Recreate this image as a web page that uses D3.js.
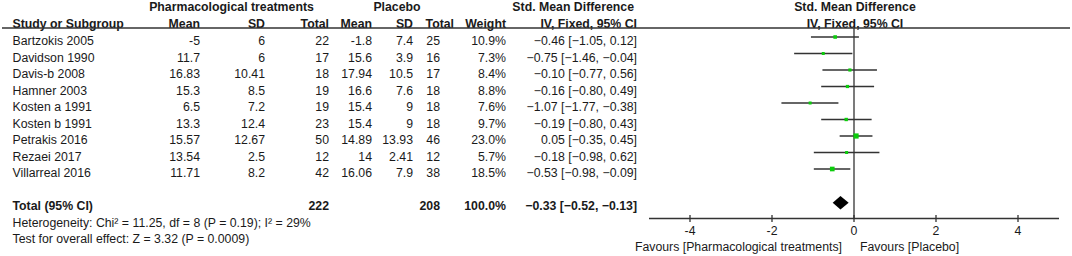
<!DOCTYPE html>
<html><head><meta charset="utf-8">
<script src="https://cdn.jsdelivr.net/npm/d3@7"></script>
<style>
html,body{margin:0;padding:0;background:#fff;}
svg{display:block;}
text{font-family:"Liberation Sans",Arial,sans-serif;font-size:12.3px;fill:#1a1a1a;}
.b{font-weight:bold;}
</style></head><body>
<svg id="c" width="1072" height="256"></svg>
<script>
const studies = ["Bartzokis 2005","Davidson 1990","Davis-b 2008","Hamner 2003","Kosten a 1991","Kosten b 1991","Petrakis 2016","Rezaei 2017","Villarreal 2016"];
const trtMean = ["-5","11.7","16.83","15.3","6.5","13.3","15.57","13.54","11.71"];
const trtSD = ["6","6","10.41","8.5","7.2","12.4","12.67","2.5","8.2"];
const trtN = [22,17,18,19,19,23,50,12,42];
const plcMean = ["-1.8","15.6","17.94","16.6","15.4","15.4","14.89","14","16.06"];
const plcSD = ["7.4","3.9","10.5","7.6","9","9","13.93","2.41","7.9"];
const plcN = [25,16,17,18,18,18,46,12,38];
const weights = [10.9,7.3,8.4,8.8,7.6,9.7,23.0,5.7,18.5];
const smd = [-0.46,-0.75,-0.10,-0.16,-1.07,-0.19,0.05,-0.18,-0.53];
const lo = [-1.05,-1.46,-0.77,-0.80,-1.77,-0.80,-0.35,-0.98,-0.98];
const hi = [0.12,-0.04,0.56,0.49,-0.38,0.43,0.45,0.62,-0.09];
const total = {trtN:222, plcN:208, weight:"100.0%", smd:-0.33, lo:-0.52, hi:-0.13};
const heterogeneity = "Heterogeneity: Chi² = 11.25, df = 8 (P = 0.19); I² = 29%";
const overallTest = "Test for overall effect: Z = 3.32 (P = 0.0009)";
const axisTicks = [-4,-2,0,2,4];
const favLeft = "Favours [Pharmacological treatments]";
const favRight = "Favours [Placebo]";

const svg = d3.select("#c");
const x = d3.scaleLinear().domain([-5,5]).range([649,1059]);
const rowY = d3.scaleLinear().domain([0,1]).range([45,61.5]); // baseline of row index
const size = d3.scaleSqrt().domain([0,23]).range([0,5.2]);
const fmt = d3.format(".2f");

function txt(xp, yp, s, anchor, cls){
  return svg.append("text").attr("x",xp).attr("y",yp).attr("text-anchor",anchor||"start")
    .attr("class",cls||null).text(s);
}

// Headers
txt(231.5, 11, "Pharmacological treatments", "middle", "b");
txt(397, 11, "Placebo", "middle", "b");
txt(634, 11, "Std. Mean Difference", "end", "b");
txt(855, 11, "Std. Mean Difference", "middle", "b");
txt(12.5, 27.5, "Study or Subgroup", "start", "b");
const hdr2 = [["Mean",200],["SD",265],["Total",329],["Mean",372],["SD",413],["Total",454],["Weight",506],["IV, Fixed, 95% CI",637]];
hdr2.forEach(h => txt(h[1], 27.5, h[0], "end", "b"));
txt(855, 27.5, "IV, Fixed, 95% CI", "middle", "b");
svg.append("line").attr("x1",2).attr("x2",1070).attr("y1",28).attr("y2",28)
  .attr("stroke","#333").attr("stroke-width",1.3);

// Study rows
studies.forEach((s,i) => {
  const y = rowY(i);
  txt(12.5, y, s);
  txt(200, y, trtMean[i], "end");
  txt(265, y, trtSD[i], "end");
  txt(329, y, trtN[i], "end");
  txt(372, y, plcMean[i], "end");
  txt(413, y, plcSD[i], "end");
  txt(440, y, plcN[i], "end");
  txt(506, y, weights[i].toFixed(1)+"%", "end");
  txt(637, y, fmt(smd[i])+" ["+fmt(lo[i])+", "+fmt(hi[i])+"]", "end");
});

// Total row
const ty = rowY(10);
txt(12.5, ty, "Total (95% CI)", "start", "b");
txt(329, ty, total.trtN, "end", "b");
txt(440, ty, total.plcN, "end", "b");
txt(506, ty, total.weight, "end", "b");
txt(637, ty, fmt(total.smd)+" ["+fmt(total.lo)+", "+fmt(total.hi)+"]", "end", "b");
txt(12.5, rowY(11), heterogeneity);
txt(12.5, rowY(12), overallTest);

// Plot
const axisY = 218.5;
svg.append("line").attr("x1",x(0)).attr("x2",x(0)).attr("y1",28).attr("y2",axisY)
  .attr("stroke","#333").attr("stroke-width",1.3);

const g = svg.append("g");
studies.forEach((s,i) => {
  const cy = rowY(i) - 8;
  g.append("line").attr("x1",x(lo[i])).attr("x2",x(hi[i])).attr("y1",cy).attr("y2",cy)
    .attr("stroke","#333").attr("stroke-width",1.3);
  const sz = Math.max(3, size(weights[i]));
  g.append("rect").attr("x",x(smd[i])-sz/2).attr("y",cy-sz/2).attr("width",sz).attr("height",sz)
    .attr("fill","#0ccc0c");
});

// Diamond
const dy = ty - 7.3;
svg.append("path")
  .attr("d", `M${x(total.lo)},${dy} L${x(total.smd)},${dy-6.8} L${x(total.hi)},${dy} L${x(total.smd)},${dy+6.8} Z`)
  .attr("fill","#000");

// Axis
const ax = svg.append("g");
ax.append("line").attr("x1",x(-5)).attr("x2",x(5)).attr("y1",axisY).attr("y2",axisY)
  .attr("stroke","#333").attr("stroke-width",1.3);
axisTicks.forEach(t => {
  ax.append("line").attr("x1",x(t)).attr("x2",x(t)).attr("y1",axisY-3.5).attr("y2",axisY+3.5)
    .attr("stroke","#333").attr("stroke-width",1.3);
  ax.append("text").attr("x",x(t)).attr("y",235).attr("text-anchor","middle").text(t);
});
txt(x(0)-12, 251, favLeft, "end");
txt(x(0)+6, 251, favRight, "start");
</script>
</body></html>
